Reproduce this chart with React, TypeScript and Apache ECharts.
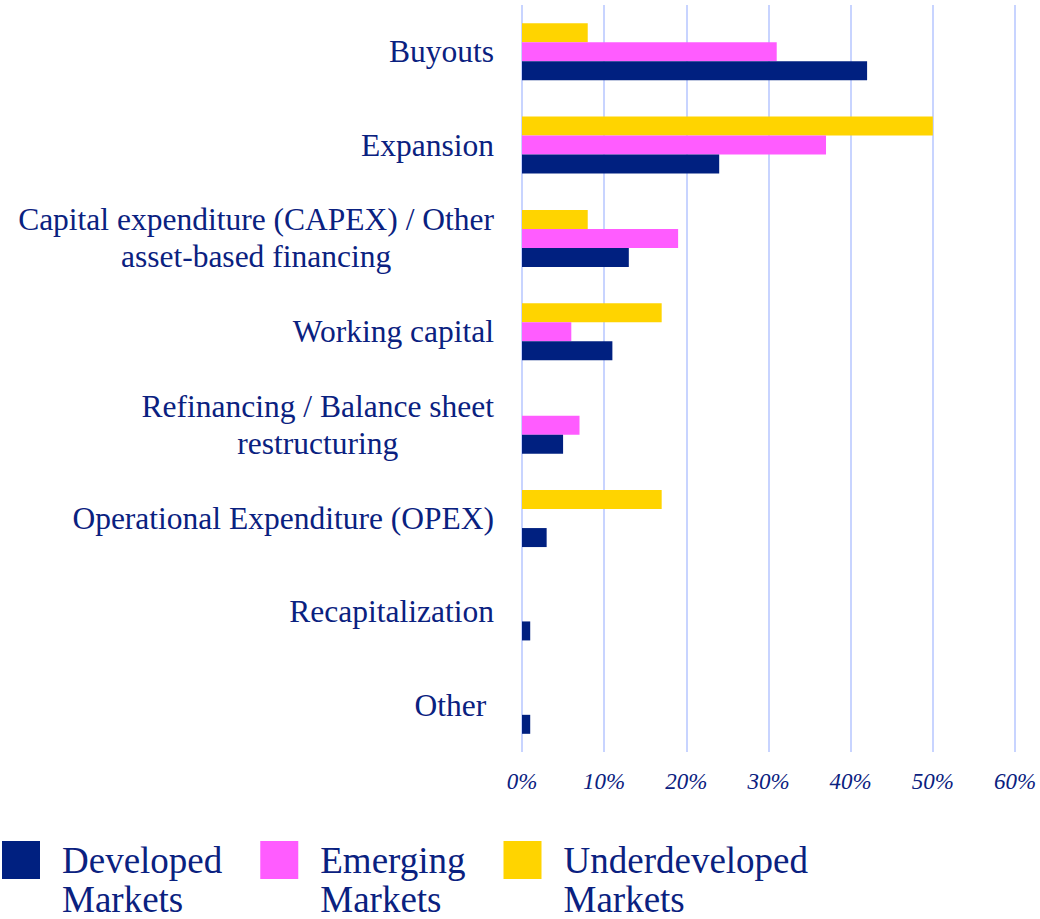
import React, { useEffect, useRef } from "react";
import * as echarts from "echarts";

const categories = [
  "Buyouts",
  "Expansion",
  "Capital expenditure (CAPEX) / Other\nasset-based financing",
  "Working capital",
  "Refinancing / Balance sheet\nrestructuring",
  "Operational Expenditure (OPEX)",
  "Recapitalization",
  "Other ",
];
const developed = [42, 24, 13, 11, 5, 3, 1, 1];
const emerging = [31, 37, 19, 6, 7, 0, 0, 0];
const underdeveloped = [8, 50, 8, 17, 0, 17, 0, 0];
const seriesNames = ["Developed Markets", "Emerging Markets", "Underdeveloped Markets"];
const xTicks = [0, 10, 20, 30, 40, 50, 60];

const NAVY = "#002080";
const PINK = "#ff5cff";
const YELLOW = "#ffd400";
const TEXT = "#0a2180";
const FONT = "Liberation Serif";

export default function App() {
  const ref = useRef<HTMLDivElement>(null);
  useEffect(() => {
    document.body.style.margin = "0";
    const chart = echarts.init(ref.current!, null, { renderer: "svg" });
    const colors = [NAVY, PINK, YELLOW];
    const datas = [developed, emerging, underdeveloped];
    const series = seriesNames.map((name, i) => ({
      name,
      type: "bar",
      data: datas[i],
      barWidth: 19,
      barGap: "0%",
      itemStyle: { color: colors[i] },
    }));
    chart.setOption({
      animation: false,
      grid: { left: 522, right: 25, top: 5, bottom: 167, containLabel: false },
      xAxis: {
        type: "value",
        min: xTicks[0],
        max: xTicks[xTicks.length - 1],
        interval: 10,
        axisLine: { show: false },
        axisTick: { show: false },
        splitLine: { show: true, lineStyle: { color: "#c8d4ff", width: 2 } },
        axisLabel: {
          formatter: "{value}%",
          margin: 18,
          color: TEXT,
          fontFamily: FONT,
          fontStyle: "italic",
          fontSize: 23,
        },
      },
      yAxis: {
        type: "category",
        inverse: true,
        data: categories,
        axisLine: { show: false },
        axisTick: { show: false },
        axisLabel: {
          margin: 28,
          formatter: (v: string) =>
            v
              .split("\n")
              .map((l) => `{c|${l}}`)
              .join("\n"),
          rich: {
            c: {
              align: "center",
              color: TEXT,
              fontFamily: FONT,
              fontSize: 31.5,
              lineHeight: 37,
            },
          },
        },
      },
      legend: {
        left: 2,
        top: 816,
        padding: 0,
        itemWidth: 38,
        itemHeight: 38,
        itemGap: 38,
        icon: "rect",
        data: seriesNames,
        formatter: (n: string) => {
          const [a, b] = n.split(" ");
          return `{e| }\n{m|${a}}\n{l|${b}}`;
        },
        textStyle: {
          color: TEXT,
          fontFamily: FONT,
          fontSize: 37,
          padding: [0, 0, 0, 17],
          rich: {
            e: { fontSize: 10, lineHeight: 26 },
            m: { color: TEXT, fontFamily: FONT, fontSize: 37, lineHeight: 52 },
            l: { color: TEXT, fontFamily: FONT, fontSize: 37, lineHeight: 26 },
          },
        },
      },
      series: series.slice().reverse(),
    });
    return () => chart.dispose();
  }, []);
  return <div ref={ref} style={{ width: 1040, height: 919 }} />;
}
